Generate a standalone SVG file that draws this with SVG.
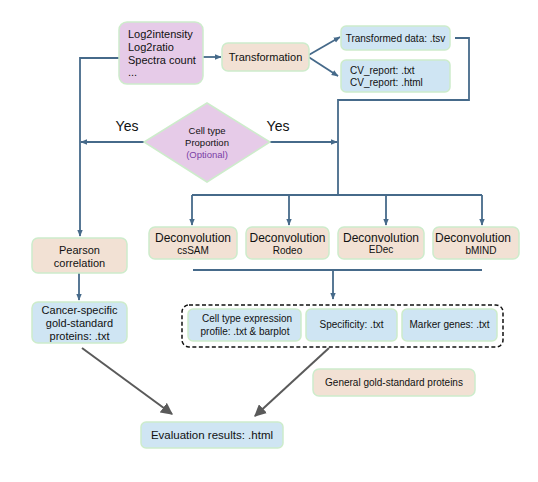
<svg xmlns="http://www.w3.org/2000/svg" width="538" height="482" viewBox="0 0 538 482">
<defs>
<marker id="ab" viewBox="0 0 10 10" refX="9" refY="5" markerWidth="7" markerHeight="7" markerUnits="userSpaceOnUse" orient="auto"><path d="M0,1 L10,5 L0,9 z" fill="#466a8a"/></marker>
<marker id="ag" viewBox="0 0 10 10" refX="9" refY="5" markerWidth="12" markerHeight="12" markerUnits="userSpaceOnUse" orient="auto"><path d="M0,0 L10,5 L0,10 z" fill="#5a5a5a"/></marker>
<style>
text{font-family:"Liberation Sans",Arial,sans-serif;fill:#111;}
.n{stroke:#cdeccb;stroke-width:1.5;}
.p{fill:#e6cbe8;}
.b{fill:#f2e1d4;}
.c{fill:#cfe5f3;}
.l{fill:none;stroke:#466a8a;stroke-width:1.8;}
.g{fill:none;stroke:#5a5a5a;stroke-width:2;}
</style>
</defs>
<rect width="538" height="482" fill="#fff"/>
<g id="connectors">
<polyline class="l" points="120,58 80,58 80,236" marker-end="url(#ab)"/>
<line class="l" x1="203" y1="57" x2="221" y2="57" marker-end="url(#ab)"/>
<line class="l" x1="307" y1="56" x2="340" y2="37" marker-end="url(#ab)"/>
<line class="l" x1="307" y1="56" x2="338" y2="76" marker-end="url(#ab)"/>
<polyline class="l" points="455,38 469,38 469,100 338,100 338,195"/>
<line class="l" x1="144" y1="142" x2="81" y2="142" marker-end="url(#ab)"/>
<line class="l" x1="270" y1="142" x2="337" y2="142" marker-end="url(#ab)"/>
<line class="l" x1="192" y1="195" x2="482" y2="195"/>
<line class="l" x1="192" y1="195" x2="192" y2="225" marker-end="url(#ab)"/>
<line class="l" x1="289" y1="195" x2="289" y2="225" marker-end="url(#ab)"/>
<line class="l" x1="386" y1="195" x2="386" y2="225" marker-end="url(#ab)"/>
<line class="l" x1="482" y1="195" x2="482" y2="225" marker-end="url(#ab)"/>
<line class="l" x1="193" y1="270" x2="482" y2="270"/>
<line class="l" x1="333" y1="270" x2="333" y2="299" marker-end="url(#ab)"/>
<line class="l" x1="79" y1="273" x2="79" y2="300" marker-end="url(#ab)"/>
<line class="g" x1="82" y1="348" x2="172" y2="414" marker-end="url(#ag)"/>
<line class="g" x1="329" y1="348" x2="255" y2="416" marker-end="url(#ag)"/>
</g>
<g id="input">
<rect class="n p" x="119" y="22" width="84" height="62" rx="8"/>
<text font-size="11"><tspan x="128" y="38">Log2intensity</tspan><tspan x="128" y="51">Log2ratio</tspan><tspan x="128" y="64">Spectra count</tspan><tspan x="128" y="76">...</tspan></text>
</g>
<g id="transformation">
<rect class="n b" x="222" y="43" width="87" height="28" rx="6"/>
<text x="265.5" y="61" font-size="11" text-anchor="middle">Transformation</text>
</g>
<g id="transformed">
<rect class="n c" x="341" y="26" width="109" height="24" rx="5"/>
<text x="395.5" y="42" font-size="10" text-anchor="middle">Transformed data: .tsv</text>
</g>
<g id="cvreport">
<rect class="n c" x="341" y="60" width="109" height="32" rx="5"/>
<text font-size="10"><tspan x="350" y="74">CV_report: .txt</tspan><tspan x="350" y="86">CV_report: .html</tspan></text>
</g>
<g id="celltype">
<polygon class="n p" points="207,103 270,142 207,182 144,142"/>
<text font-size="9.5" text-anchor="middle"><tspan x="207" y="134">Cell type</tspan><tspan x="207" y="146">Proportion</tspan><tspan x="207" y="158" style="fill:#7a3fa6">(Optional)</tspan></text>
</g>
<text x="127" y="131" font-size="14" text-anchor="middle">Yes</text>
<text x="278" y="131" font-size="14" text-anchor="middle">Yes</text>
<g id="pearson">
<rect class="n b" x="32" y="238" width="95" height="35" rx="6"/>
<text font-size="11" text-anchor="middle"><tspan x="79.5" y="254">Pearson</tspan><tspan x="79.5" y="267">correlation</tspan></text>
</g>
<g id="cancer">
<rect class="n c" x="32" y="302" width="95" height="41" rx="6"/>
<text font-size="11" text-anchor="middle"><tspan x="79.5" y="314">Cancer-specific</tspan><tspan x="79.5" y="327">gold-standard</tspan><tspan x="79.5" y="340">proteins:  .txt</tspan></text>
</g>
<g id="decon1">
<rect class="n b" x="149" y="227" width="88" height="32" rx="6"/>
<text font-size="12" text-anchor="middle"><tspan x="193" y="242">Deconvolution</tspan><tspan x="193" y="254" font-size="10">csSAM</tspan></text>
</g>
<g id="decon2">
<rect class="n b" x="246" y="227" width="83" height="32" rx="6"/>
<text font-size="12" text-anchor="middle"><tspan x="287.5" y="242">Deconvolution</tspan><tspan x="287.5" y="254" font-size="10">Rodeo</tspan></text>
</g>
<g id="decon3">
<rect class="n b" x="338" y="227" width="86" height="32" rx="6"/>
<text font-size="12" text-anchor="middle"><tspan x="381" y="242">Deconvolution</tspan><tspan x="381" y="253" font-size="10">EDec</tspan></text>
</g>
<g id="decon4">
<rect class="n b" x="433" y="227" width="86" height="32" rx="6"/>
<text font-size="12" text-anchor="middle"><tspan x="473" y="242">Deconvolution</tspan><tspan x="481" y="254" font-size="10">bMIND</tspan></text>
</g>
<g id="outputs">
<rect x="182" y="305" width="321" height="42" rx="7" fill="none" stroke="#111" stroke-width="1.5" stroke-dasharray="4,2.5"/>
</g>
<g id="profile">
<rect class="n c" x="188" y="309" width="113" height="32" rx="5"/>
<text font-size="10" text-anchor="middle"><tspan x="247" y="322">Cell type expression</tspan><tspan x="245" y="335">profile: .txt &amp; barplot</tspan></text>
</g>
<g id="specificity">
<rect class="n c" x="306" y="309" width="91" height="32" rx="5"/>
<text x="351.5" y="328" font-size="10" text-anchor="middle">Specificity: .txt</text>
</g>
<g id="marker">
<rect class="n c" x="402" y="309" width="95" height="32" rx="5"/>
<text x="449.5" y="328" font-size="10" text-anchor="middle">Marker genes: .txt</text>
</g>
<g id="general">
<rect class="n b" x="313" y="369" width="162" height="27" rx="6"/>
<text x="394" y="386" font-size="10" text-anchor="middle">General gold-standard proteins</text>
</g>
<g id="evaluation">
<rect class="n c" x="141" y="422" width="142" height="26" rx="5"/>
<text x="212" y="439" font-size="11.5" text-anchor="middle">Evaluation results: .html</text>
</g>
</svg>
